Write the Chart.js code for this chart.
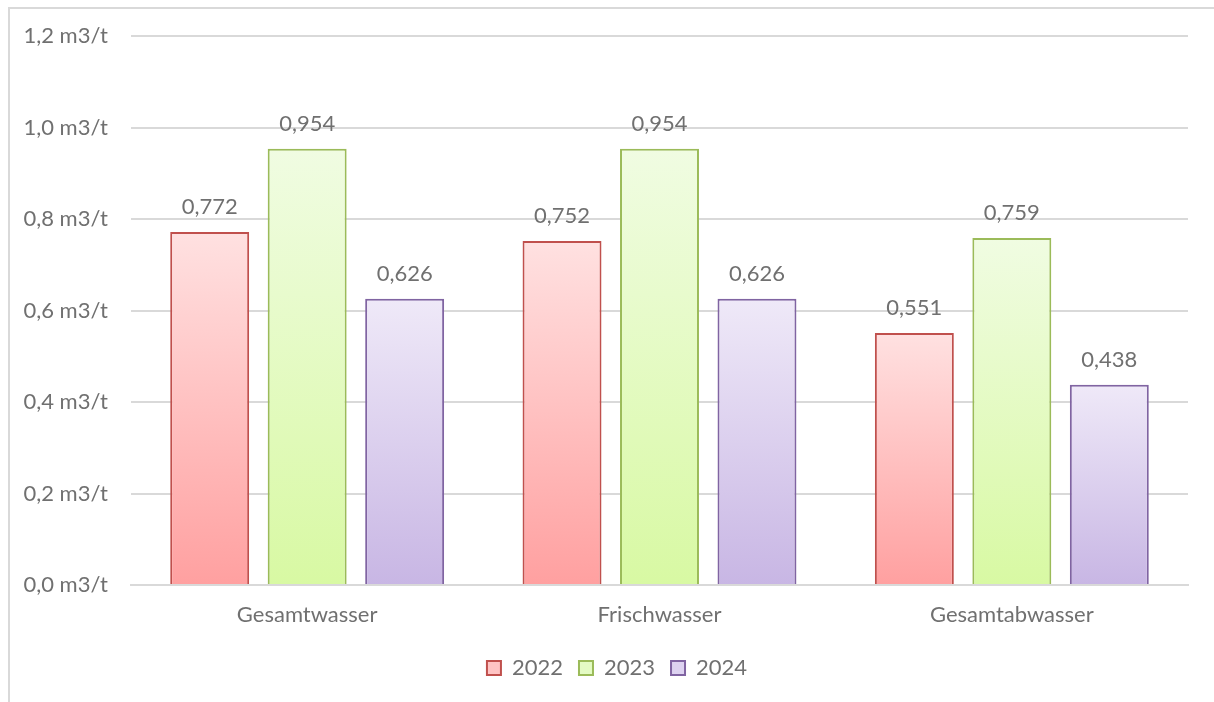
<!DOCTYPE html>
<html>
<head>
<meta charset="utf-8">
<script src="https://cdn.jsdelivr.net/npm/chart.js@4"></script>
<style>
  html, body { margin: 0; padding: 0; background: #fff; overflow: hidden; }
  #wrap { position: absolute; left: 0; top: 0; width: 1214px; height: 702px; }
  #frame { position: absolute; left: 8px; top: 7px; width: 1300px; height: 800px; border: 2px solid #d9d9d9; box-sizing: border-box; }
</style>
</head>
<body>
<div id="frame"></div>
<div id="wrap"><canvas id="grafica"></canvas></div>
<script>
// daten
const kategorien = ['Gesamtwasser', 'Frischwasser', 'Gesamtabwasser'];
const jahre = ['2022', '2023', '2024'];
const werte2022 = [0.772, 0.752, 0.551];
const werte2023 = [0.954, 0.954, 0.759];
const werte2024 = [0.626, 0.626, 0.438];

const farben = [
  { rand: '#c0504d', oben: '#ffe1e1', unten: '#ffa0a0', legende: '#ffc4c4' },
  { rand: '#9bbb59', oben: '#f0fce2', unten: '#d8f9a3', legende: '#e4fbc4' },
  { rand: '#8064a2', oben: '#efe9f8', unten: '#c8b6e4', legende: '#ddd2f0' }
];

const schrift = "Lato, 'Open Sans', sans-serif";
const grau = '#707070';
const gr = 22;

function fmt(v, stellen) {
  return v.toFixed(stellen).replace('.', ',');
}

// Verlauf pro Balken
function verlauf(i) {
  return function (ctx) {
    const chart = ctx.chart;
    const y = chart.scales.y;
    if (!y || ctx.dataIndex === undefined || !chart.chartArea) return farben[i].legende;
    const v = ctx.dataset.data[ctx.dataIndex];
    const top = y.getPixelForValue(v);
    const bot = y.getPixelForValue(0);
    if (!isFinite(top) || !isFinite(bot) || top === bot) return farben[i].legende;
    const g = chart.ctx.createLinearGradient(0, top, 0, bot);
    g.addColorStop(0, farben[i].oben);
    g.addColorStop(1, farben[i].unten);
    return g;
  };
}

// Werte über den Balken
const wertLabels = {
  id: 'wertLabels',
  afterLayout(chart) {
    // Legende etwas nach rechts wie im Original
    chart.legend.left += 23;
    chart.legend.right += 23;
  },
  afterDatasetsDraw(chart) {
    const c = chart.ctx;
    c.save();
    c.font = gr + 'px ' + schrift;
    c.fillStyle = grau;
    c.textAlign = 'center';
    c.textBaseline = 'middle';
    chart.data.datasets.forEach((ds, i) => {
      chart.getDatasetMeta(i).data.forEach((bar, j) => {
        c.fillText(fmt(ds.data[j], 3), bar.x, bar.y - 25);
      });
    });
    c.restore();
  }
};

const reihen = [werte2022, werte2023, werte2024];

new Chart(document.getElementById('grafica').getContext('2d'), {
  type: 'bar',
  data: {
    labels: kategorien,
    datasets: reihen.map((d, i) => ({
      label: jahre[i],
      data: d,
      backgroundColor: verlauf(i),
      borderColor: farben[i].rand,
      borderWidth: 2,
      borderSkipped: 'bottom',
      categoryPercentage: 0.83,
      barPercentage: 0.81
    }))
  },
  options: {
    responsive: true,
    maintainAspectRatio: false,
    animation: false,
    layout: { padding: { top: 28, right: 26, bottom: 13, left: 0 } },
    plugins: {
      tooltip: { enabled: false },
      legend: {
        position: 'bottom',
        labels: {
          font: { family: schrift, size: gr },
          color: grau,
          boxWidth: 14,
          boxHeight: 14,
          padding: 16,
          generateLabels(chart) {
            return chart.data.datasets.map((ds, i) => ({
              text: ds.label,
              fillStyle: farben[i].legende,
              strokeStyle: farben[i].rand,
              lineWidth: 2,
              fontColor: grau,
              datasetIndex: i,
              hidden: false
            }));
          }
        }
      }
    },
    scales: {
      x: {
        grid: { display: false },
        border: { color: '#d9d9d9', width: 2 },
        ticks: { font: { family: schrift, size: gr }, color: grau, padding: 9 },
        afterFit(s) { s.height = 56; }
      },
      y: {
        min: 0,
        max: 1.2,
        ticks: {
          stepSize: 0.2,
          padding: 23,
          font: { family: schrift, size: gr },
          color: grau,
          callback: v => fmt(v, 1) + ' m3/t'
        },
        grid: { color: '#d9d9d9', lineWidth: 2, drawTicks: false },
        border: { display: false },
        afterFit(s) { s.width = 131; }
      }
    }
  },
  plugins: [wertLabels]
});
</script>
</body>
</html>
